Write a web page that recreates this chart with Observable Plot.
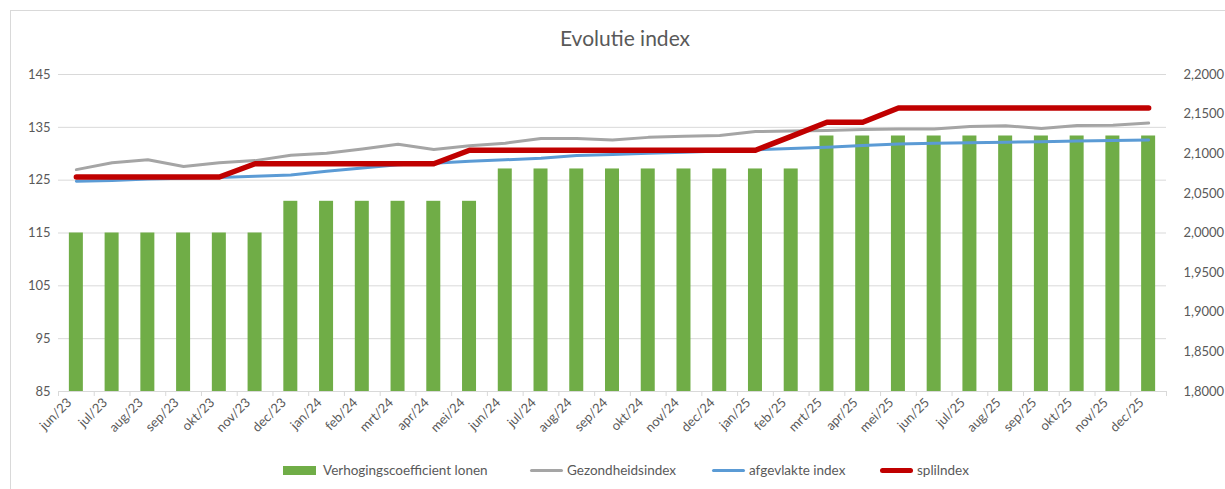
<!DOCTYPE html>
<html><head><meta charset="utf-8">
<script src="https://cdn.jsdelivr.net/npm/d3@7"></script>
<script src="https://cdn.jsdelivr.net/npm/@observablehq/plot@0.6"></script>
<style>
body{margin:0;background:#fff;font-family:Lato,"Open Sans",sans-serif;color:#595959;}
#wrap{position:relative;width:1225px;height:489px;overflow:hidden;background:#fff;}
#frame{position:absolute;left:10px;top:10px;width:1240px;height:500px;border:1px solid #d9d9d9;box-sizing:border-box;}
#title{position:absolute;left:0;top:26px;width:1250px;text-align:center;font-size:21px;color:#595959;line-height:24px;}
#chart{position:absolute;left:0;top:0;}
.leg{position:absolute;top:462px;height:16px;display:flex;align-items:center;font-size:13.5px;color:#595959;white-space:nowrap;}
.sw{display:inline-block;width:33px;height:9px;margin-right:7px;}
.ln{display:inline-block;width:33px;border-radius:3px;margin-right:4px;}
</style>
</head><body>
<div id="wrap">
  <div id="frame"></div>
  <div id="title">Evolutie index</div>
  <div id="chart"></div>
  <div class="leg" style="left:283px"><span class="sw" style="background:#70ad47"></span>Verhogingscoefficient lonen</div>
  <div class="leg" style="left:530px"><span class="ln" style="height:3px;background:#a5a5a5"></span>Gezondheidsindex</div>
  <div class="leg" style="left:712px"><span class="ln" style="height:3px;background:#5b9bd5"></span>afgevlakte index</div>
  <div class="leg" style="left:880px"><span class="ln" style="height:5px;background:#c00000"></span>splilndex</div>
</div>
<script>
const months = ["jun/23","jul/23","aug/23","sep/23","okt/23","nov/23","dec/23",
  "jan/24","feb/24","mrt/24","apr/24","mei/24","jun/24","jul/24","aug/24","sep/24","okt/24","nov/24","dec/24",
  "jan/25","feb/25","mrt/25","apr/25","mei/25","jun/25","jul/25","aug/25","sep/25","okt/25","nov/25","dec/25"];

// Verhogingscoefficient lonen (right axis)
const coefficient = [2.0000,2.0000,2.0000,2.0000,2.0000,2.0000,
  2.0400,2.0400,2.0400,2.0400,2.0400,2.0400,
  2.0808,2.0808,2.0808,2.0808,2.0808,2.0808,2.0808,2.0808,2.0808,
  2.1224,2.1224,2.1224,2.1224,2.1224,2.1224,2.1224,2.1224,2.1224,2.1224];

// Gezondheidsindex (left axis)
const gezondheidsindex = [127.0,128.3,128.85,127.6,128.3,128.7,129.7,
  130.1,130.9,131.8,130.8,131.5,132.0,132.9,132.9,132.6,133.1,133.3,133.45,
  134.2,134.3,134.4,134.6,134.7,134.7,135.15,135.3,134.8,135.35,135.4,135.8];

// afgevlakte index (left axis)
const afgevlakteIndex = [124.8,124.95,125.2,125.35,125.5,125.75,126.0,
  126.7,127.3,127.9,128.2,128.6,128.85,129.15,129.65,129.85,130.1,130.3,130.5,
  130.75,131.0,131.25,131.55,131.85,132.0,132.1,132.2,132.25,132.4,132.5,132.6];

// spilindex (left axis)
const spilindex = [125.60,125.60,125.60,125.60,125.60,
  128.11,128.11,128.11,128.11,128.11,128.11,
  130.67,130.67,130.67,130.67,130.67,130.67,130.67,130.67,130.67,
  133.28,135.95,135.95,
  138.67,138.67,138.67,138.67,138.67,138.67,138.67,138.67];

const leftTicks = [85,95,105,115,125,135,145];
const rightTicks = ["1,8000","1,8500","1,9000","1,9500","2,0000","2,0500","2,1000","2,1500","2,2000"];
const rightDomain = [1.8, 2.2];
const leftDomain = [85, 145];

// map right-axis value onto left-axis units
const toLeft = v => leftDomain[0] + (v - rightDomain[0]) / (rightDomain[1] - rightDomain[0]) * (leftDomain[1] - leftDomain[0]);
const rightTickPos = rightTicks.map((_, i) => leftDomain[0] + i * (leftDomain[1] - leftDomain[0]) / (rightTicks.length - 1));

const W = 1225, H = 455, ML = 58, MR = 59, MT = 74, MB = 64;
const step = (W - ML - MR) / months.length;
const barInset = (step - 14) / 2;

const chart = Plot.plot({
  width: W, height: H,
  marginLeft: ML, marginRight: MR, marginTop: MT, marginBottom: MB,
  style: {fontFamily: "Lato, 'Open Sans', sans-serif", fontSize: "13px", color: "#595959", background: "transparent"},
  x: {domain: months, type: "band", padding: 0, round: false},
  y: {domain: leftDomain},
  marks: [
    Plot.gridY(leftTicks, {stroke: "#d9d9d9", strokeOpacity: 1}),
    Plot.barY(months, {x: d => d, y1: leftDomain[0], y2: (d, i) => toLeft(coefficient[i]), fill: "#70ad47", insetLeft: barInset, insetRight: barInset}),
    Plot.lineY(months, {x: d => d, y: (d, i) => gezondheidsindex[i], stroke: "#a5a5a5", strokeWidth: 3}),
    Plot.lineY(months, {x: d => d, y: (d, i) => afgevlakteIndex[i], stroke: "#5b9bd5", strokeWidth: 3}),
    Plot.lineY(months, {x: d => d, y: (d, i) => spilindex[i], stroke: "#c00000", strokeWidth: 5.5}),
    Plot.ruleY([leftDomain[0]], {stroke: "#d9d9d9"}),
    Plot.ruleX(months, {x: d => d, dx: -step / 2, y1: leftDomain[0], y2: leftDomain[0], insetBottom: -5, stroke: "#d9d9d9"}),
    Plot.ruleX([months[months.length - 1]], {x: d => d, dx: step / 2, y1: leftDomain[0], y2: leftDomain[0], insetBottom: -5, stroke: "#d9d9d9"}),
    Plot.axisY(leftTicks, {anchor: "left", tickSize: 0, tickPadding: 8, fill: "#595959", label: null, fontSize: 13}),
    Plot.axisY(rightTickPos, {anchor: "right", tickSize: 0, tickPadding: 17, fill: "#595959", label: null, fontSize: 13,
      tickFormat: (t) => rightTicks[rightTickPos.indexOf(t)]}),
    Plot.axisX({tickSize: 0, tickPadding: 9, tickRotate: -45, dx: -7, fill: "#595959", label: null, fontSize: 13})
  ]
});
document.getElementById("chart").appendChild(chart);
</script>
</body></html>
